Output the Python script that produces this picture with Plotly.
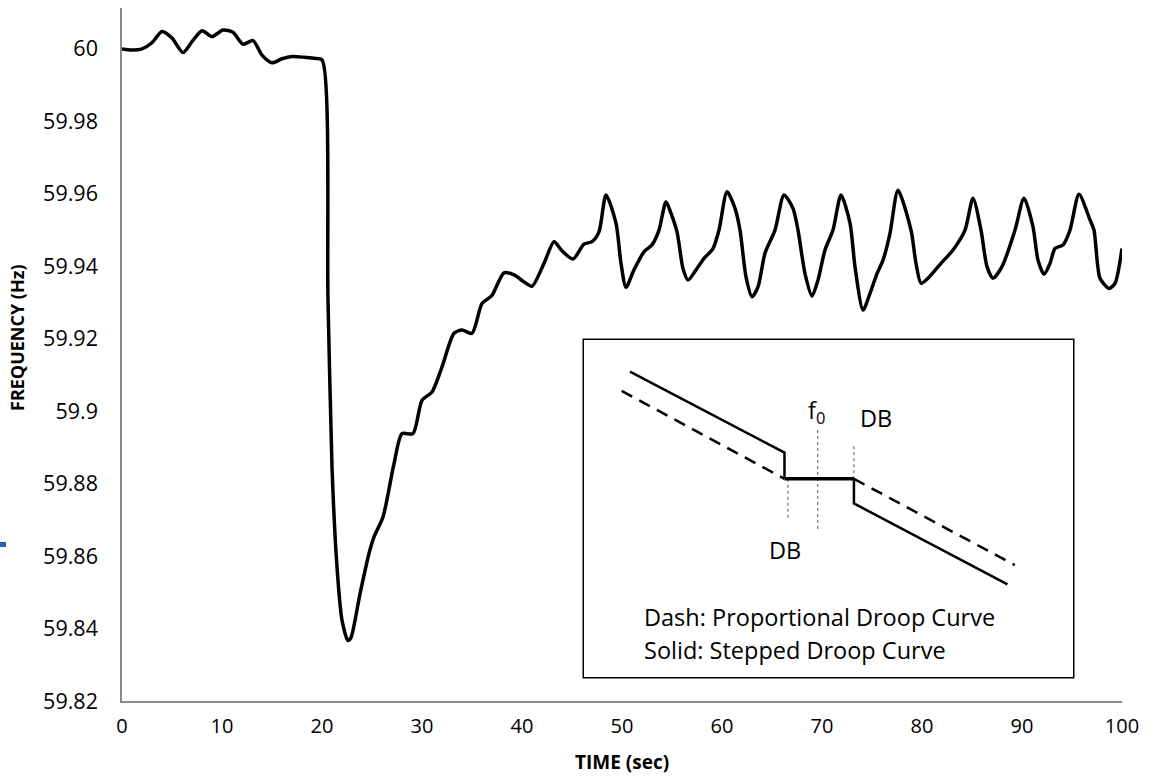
import plotly.graph_objects as go

# ---- main series ----
time_s = [0, 1, 2, 3, 4, 5, 6.1, 7, 8, 9, 10.1, 11.1, 12.1, 13.1, 14, 15, 16, 17, 18.2, 19.2, 20,
          20.6, 21, 21.5, 22, 22.6, 22.9, 23.8, 24.7, 25.2, 26.1, 27.2, 28, 29.1, 30, 31, 32, 33.2,
          34, 35, 36, 37, 38.2, 39.2, 40.2, 41, 42.2, 43.2, 44, 45.1, 46.2, 47, 47.7, 48.4, 49.4,
          49.9, 50.4, 51.2, 52.2, 53, 53.7, 54.4, 54.9, 55.5, 56.1, 56.6, 57.4, 58.2, 59.1, 59.7,
          60.5, 61.3, 61.8, 62.4, 63, 63.6, 64.3, 65.3, 66.2, 67.1, 67.6, 68.3, 69, 69.6, 70.3,
          71.1, 71.9, 72.8, 73.3, 74.1, 74.8, 75.5, 76.1, 76.8, 77.6, 78.9, 79.4, 79.9, 80.6, 81.9,
          83.1, 84.3, 85.1, 85.9, 86.5, 87.1, 88, 89.3, 90.2, 91.1, 91.6, 92.2, 92.8, 93.3, 94.1,
          94.8, 95.7, 96.8, 97.2, 97.8, 98.7, 99.3, 100]
freq_hz = [60.0, 59.9997, 60.0, 60.0017, 60.0048, 60.003, 59.999, 60.002, 60.005, 60.0034, 60.0052,
           60.0046, 60.0013, 60.0023, 59.9983, 59.9962, 59.9973, 59.9979, 59.9977, 59.9974, 59.997,
           59.9307, 59.8846, 59.857, 59.8423, 59.8367, 59.8375, 59.8496, 59.8607, 59.8653, 59.8708,
           59.8855, 59.8938, 59.8938, 59.903, 59.9053, 59.9122, 59.9215, 59.9224, 59.9215, 59.9297,
           59.932, 59.9382, 59.9376, 59.9357, 59.9345, 59.9408, 59.9468, 59.9443, 59.942, 59.9461,
           59.9468, 59.9495, 59.9597, 59.9519, 59.9408, 59.9342, 59.939, 59.944, 59.9459, 59.95,
           59.9578, 59.9546, 59.9495, 59.9394, 59.9362, 59.939, 59.9422, 59.9449, 59.95, 59.9606,
           59.956, 59.95, 59.9371, 59.9316, 59.9343, 59.9436, 59.95, 59.9597, 59.956, 59.95, 59.938,
           59.9318, 59.9362, 59.9445, 59.95, 59.9597, 59.9519, 59.9399, 59.9279, 59.9325, 59.938,
           59.9417, 59.9491, 59.961, 59.95, 59.9408, 59.9353, 59.9367, 59.9408, 59.9445, 59.95,
           59.9588, 59.95, 59.9399, 59.9367, 59.9399, 59.95, 59.9588, 59.9509, 59.9417, 59.9378,
           59.9408, 59.9449, 59.9459, 59.95, 59.9599, 59.9528, 59.95, 59.9367, 59.9339, 59.9353,
           59.9449]

x_ticks = [0, 10, 20, 30, 40, 50, 60, 70, 80, 90, 100]
y_ticks = [59.82, 59.84, 59.86, 59.88, 59.9, 59.92, 59.94, 59.96, 59.98, 60.0]
y_tick_labels = ["59.82", "59.84", "59.86", "59.88", "59.9", "59.92", "59.94", "59.96", "59.98", "60"]

# ---- inset droop-curve sketch (inset units 0..100) ----
stepped_upper_x = [9.4, 41.0, 41.0]
stepped_upper_y = [90.6, 66.6, 58.8]
stepped_dead_x = [41.0, 55.2]
stepped_dead_y = [58.8, 58.8]
stepped_lower_x = [55.2, 55.2, 86.6]
stepped_lower_y = [58.8, 51.5, 27.5]
prop_left_x = [7.7, 41.0]
prop_left_y = [84.9, 58.8]
prop_right_x = [55.2, 88.1]
prop_right_y = [58.8, 33.2]
db_left_x = [41.7, 41.7]
db_left_y = [58.8, 46.9]
f0_x = [47.8, 47.8]
f0_y = [73.3, 43.9]
db_right_x = [55.2, 55.2]
db_right_y = [68.5, 58.8]

FONT = "Open Sans"

fig = go.Figure()
fig.add_trace(go.Scatter(x=time_s, y=freq_hz, mode="lines",
                         line=dict(color="black", width=3.5, shape="spline", smoothing=0.7),
                         showlegend=False, hoverinfo="skip"))

# inset traces
def inset_line(xs, ys, width, dash="solid", color="black"):
    fig.add_trace(go.Scatter(x=xs, y=ys, xaxis="x2", yaxis="y2", mode="lines",
                             line=dict(color=color, width=width, dash=dash),
                             showlegend=False, hoverinfo="skip"))

inset_line(db_left_x, db_left_y, 1, "dot", "#555555")
inset_line(f0_x, f0_y, 1, "dot", "#555555")
inset_line(db_right_x, db_right_y, 1, "dot", "#555555")
inset_line(prop_left_x, prop_left_y, 2.5, "12px,8px")
inset_line(prop_right_x, prop_right_y, 2.5, "12px,8px")
inset_line(stepped_upper_x, stepped_upper_y, 2.5)
inset_line(stepped_lower_x, stepped_lower_y, 2.5)
inset_line(stepped_dead_x, stepped_dead_y, 3.5)

W, H = 1159, 778
L, R, T, B = 122, 37, 8, 77
pw, ph = W - L - R, H - T - B

def px(x):
    return (x - L) / pw

def py(y):
    return (H - B - y) / ph

box = dict(x0=px(584), x1=px(1073), y0=py(677), y1=py(340))
INSET_FS = 23.5

fig.update_layout(
    width=W, height=H,
    margin=dict(l=L, r=R, t=T, b=B),
    paper_bgcolor="white", plot_bgcolor="white",
    font=dict(family=FONT, color="black"),
    xaxis=dict(range=[0, 100], tickvals=x_ticks, showgrid=False, zeroline=False,
               showline=True, linecolor="#898989", linewidth=1.5,
               ticks="outside", ticklen=6, tickcolor="rgba(0,0,0,0)",
               tickfont=dict(size=20, family=FONT), fixedrange=True),
    yaxis=dict(range=[59.82, 60.0113], tickvals=y_ticks, ticktext=y_tick_labels,
               showgrid=False, zeroline=False,
               showline=True, linecolor="#898989", linewidth=1.5,
               ticks="outside", ticklen=18, tickcolor="rgba(0,0,0,0)",
               tickfont=dict(size=21.5, family=FONT), fixedrange=True),
    xaxis2=dict(domain=[box["x0"], box["x1"]], range=[0, 100], anchor="y2",
                visible=False, fixedrange=True),
    yaxis2=dict(domain=[box["y0"], box["y1"]], range=[0, 100], anchor="x2",
                visible=False, fixedrange=True),
    shapes=[
        dict(type="rect", xref="paper", yref="paper", layer="below",
             x0=box["x0"], x1=box["x1"], y0=box["y0"], y1=box["y1"],
             line=dict(color="black", width=3), fillcolor="white"),
        dict(type="rect", xref="paper", yref="paper",
             x0=px(0), x1=px(6), y0=py(547), y1=py(542),
             line=dict(width=0), fillcolor="#1f63b5"),
    ],
    annotations=[
        dict(text="<b>FREQUENCY (Hz)</b>", xref="paper", yref="paper",
             x=px(17), y=py(338), textangle=-90, showarrow=False,
             font=dict(size=18, family=FONT), xanchor="center", yanchor="middle"),
        dict(text="<b>TIME (sec)</b>", xref="paper", yref="paper",
             x=px(622), y=py(762), showarrow=False,
             font=dict(size=19, family=FONT), xanchor="center", yanchor="middle"),
        dict(text="f<sub>0</sub>", xref="x2", yref="y2", x=47.6, y=78.7, showarrow=False,
             font=dict(size=INSET_FS, family=FONT), xanchor="center", yanchor="middle"),
        dict(text="DB", xref="x2", yref="y2", x=56.0, y=76.9, showarrow=False,
             font=dict(size=INSET_FS, family=FONT), xanchor="left", yanchor="middle"),
        dict(text="DB", xref="x2", yref="y2", x=41.1, y=37.7, showarrow=False,
             font=dict(size=INSET_FS, family=FONT), xanchor="center", yanchor="middle"),
        dict(text="Dash: Proportional Droop Curve", xref="x2", yref="y2", x=11.8, y=17.9,
             showarrow=False, font=dict(size=INSET_FS, family=FONT), xanchor="left", yanchor="middle"),
        dict(text="Solid: Stepped Droop Curve", xref="x2", yref="y2", x=11.8, y=8.0,
             showarrow=False, font=dict(size=INSET_FS, family=FONT), xanchor="left", yanchor="middle"),
    ],
)

fig.write_html("out.html")
